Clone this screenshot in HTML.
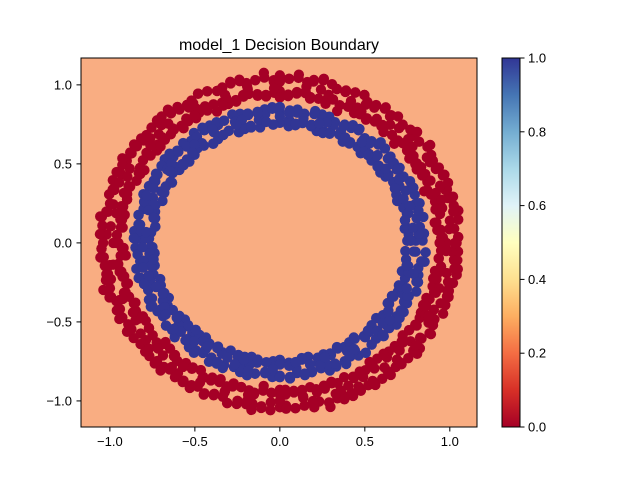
<!DOCTYPE html>
<html><head><meta charset="utf-8"><style>
body{margin:0;background:#fff;}
svg{display:block;font-family:"Liberation Sans","DejaVu Sans",sans-serif;}
</style></head><body>
<svg id="chart" width="640" height="480" viewBox="0 0 640 480" xmlns="http://www.w3.org/2000/svg">
<defs>
<linearGradient id="rdylbu" x1="0" y1="1" x2="0" y2="0">
<stop offset="0" stop-color="#a50026"/><stop offset="0.1" stop-color="#d73027"/><stop offset="0.2" stop-color="#f46d43"/><stop offset="0.3" stop-color="#fdae61"/><stop offset="0.4" stop-color="#fee090"/><stop offset="0.5" stop-color="#ffffbf"/><stop offset="0.6" stop-color="#e0f3f8"/><stop offset="0.7" stop-color="#abd9e9"/><stop offset="0.8" stop-color="#74add1"/><stop offset="0.9" stop-color="#4575b4"/><stop offset="1" stop-color="#313695"/>
</linearGradient>
<clipPath id="clip"><rect x="81" y="58" width="396" height="369"/></clipPath>
</defs>
<text x="279" y="50" text-anchor="middle" font-size="16">model_1 Decision Boundary</text>
<rect x="81" y="58" width="396" height="369" fill="#f9ad82"/>
<g id="points" clip-path="url(#clip)"></g>
<rect x="81" y="58" width="396" height="369" fill="none" stroke="#000" stroke-width="1"/>
<g id="xticks"></g>
<g id="yticks"></g>
<rect x="502" y="58" width="18" height="369" fill="url(#rdylbu)" stroke="#000" stroke-width="1"/>
<g id="cticks"></g>
</svg>
<script>
const xTicks=[-1.0,-0.5,0.0,0.5,1.0];
const xTickLabels=["−1.0","−0.5","0.0","0.5","1.0"];
const yTicks=[-1.0,-0.5,0.0,0.5,1.0];
const yTickLabels=["−1.0","−0.5","0.0","0.5","1.0"];
const cTicks=[0,0.2,0.4,0.6,0.8,1.0];
const cTickLabels=["0.0","0.2","0.4","0.6","0.8","1.0"];
const outerA=[0,2,5,8,11,13,16,19,21,24,27,30,32,35,38,41,43,46,49,51,54,57,60,62,65,68,71,73,76,79,81,84,87,90,92,95,98,101,103,106,109,111,114,117,120,122,125,128,131,133,136,139,141,144,147,150,152,155,158,161,163,166,169,171,174,177,180,182,185,188,191,193,196,199,201,204,207,210,212,215,218,221,223,226,229,231,234,237,240,242,245,248,251,253,256,259,261,264,267,270,272,275,278,281,283,286,289,291,294,297,300,302,305,308,311,313,316,319,321,324,327,330,332,335,338,341,343,346,349,351,354,357];
const outerR1=[0.98,1.05,0.93,1.01,1.07,0.95,0.99,1.03,0.91,1.06,0.96,1.02,0.94,1.08,0.97,1.00,0.92,1.04,0.99,0.95,1.06,0.93,1.01,0.97,1.05,0.90,1.03,0.98,1.07,0.94,1.00,0.96,1.04,0.92,1.02,1.08,0.95,0.99,1.05,0.93,0.97,1.03,0.91,1.06,0.98,1.01,0.94,1.07,0.96,1.02,0.99,0.93,1.05,0.97,1.04,0.92,1.00,1.06,0.95,1.03,0.94,1.01,0.98,1.07,0.93,1.02,0.96,1.05,0.91,0.99,1.04,0.95,1.08,0.97,1.01,0.93,1.06,0.98,1.03,0.94,1.00,1.05,0.92,0.99,1.07,0.96,1.02,0.94,1.04,0.97,1.06,0.93,1.00,0.95,1.03,0.98,1.07,0.91,1.01,0.96,1.05,0.94,0.99,1.02,0.97,1.08,0.93,1.00,1.04,0.95,0.98,1.06,0.92,1.03,0.96,1.01,0.94,1.07,0.99,1.02,0.95,1.04,0.97,1.00,0.93,1.05,0.98,1.02,0.96,1.06,0.94,1.01,0.99,1.03];
const outerR2=[1.03,0.95,1.00,0.92,1.04,0.98,1.06,0.94,1.01,0.97,1.05,0.93,1.02,0.96,0.99,1.07,0.95,1.01,0.93,1.04,0.97,1.02,0.94,1.06,0.99,1.03,0.96,0.92,1.00,1.05,0.97,1.07,0.93,1.02,0.98,0.94,1.04,1.01,0.96,1.06,0.99,0.93,1.05,0.97,1.02,0.95,1.03,0.92,1.00,1.06,0.94,1.01,0.98,1.04,0.96,1.07,0.93,0.99,1.02,0.97,1.05,0.95,1.03,0.94,1.00,1.06,0.98,0.92,1.04,1.01,0.96,1.02,0.94,1.05,0.99,1.03,0.97,0.93,1.06,1.00,0.95,1.02,0.98,1.04,0.94,1.01,0.97,1.05,0.93,1.00,0.96,1.03,0.99,1.06,0.94,1.02,0.97,1.04,0.95,1.00,0.93,1.05,0.98,1.03,0.96,0.94,1.01,1.06,0.99,1.02,0.95,1.04,0.97,1.00,0.93,1.05,0.98,0.96,1.03,0.94,1.06,1.01,0.99,0.95,1.02,0.97,1.04,0.93,1.00,0.96,1.05,0.98];
const outerR3=[0.94,0.96,0.95,0.93,0.96,0.94,0.95,0.97,0.93,0.95,0.94,0.96,0.95,0.93,0.95,0.96,0.94,0.95,0.93,0.96,0.95,0.94,0.96,0.93,0.95,0.94,0.96,0.95,0.94,0.93,0.96,0.95,0.94,0.96,0.95,0.93,0.94,0.96,0.95,0.94,0.93,0.95,0.96,0.94,0.95,0.93,0.96,0.94,0.95,0.94,0.96,0.95,0.93,0.94,0.96,0.95,0.94,0.93,0.96,0.95,0.94,0.96,0.93,0.95,0.94,0.96,0.95,0.93,0.94,0.96,0.95,0.94,0.93,0.96,0.95,0.94,0.95,0.96,0.93,0.94,0.95,0.96,0.94,0.93,0.95,0.96,0.94,0.95,0.93,0.96,0.94,0.95,0.96,0.93,0.94,0.95,0.96,0.94,0.95,0.93,0.96,0.95,0.94,0.93,0.95,0.96,0.94,0.95,0.93,0.96,0.94,0.95,0.96,0.93,0.95,0.94,0.96,0.95,0.93,0.94,0.96,0.95,0.94,0.93,0.95,0.96,0.94,0.95,0.93,0.96,0.94,0.95,0.96,0.94];
const outerR4=[1.04,1.05,1.03,1.06,1.04,1.05,1.03,1.04,1.06,1.05,1.03,1.04,1.05,1.06,1.04,1.03,1.05,1.04,1.06,1.03,1.05,1.04,1.03,1.06,1.05,1.04,1.03,1.05,1.06,1.04,1.03,1.05,1.04,1.06,1.03,1.05,1.04,1.03,1.06,1.05,1.04,1.03,1.05,1.06,1.04,1.03,1.05,1.04,1.06,1.03,1.05,1.04,1.03,1.06,1.05,1.04,1.05,1.03,1.06,1.04,1.05,1.03,1.04,1.06,1.05,1.03,1.04,1.05,1.06,1.04,1.03,1.05,1.04,1.06,1.03,1.05,1.04,1.03,1.06,1.05,1.04,1.03,1.05,1.06,1.04,1.03,1.05,1.04,1.06,1.03,1.05,1.04,1.03,1.06,1.05,1.04,1.03,1.05,1.06,1.04,1.03,1.05,1.04,1.06,1.03,1.05,1.04,1.03,1.06,1.05,1.04,1.03,1.05,1.06,1.04,1.03,1.05,1.04,1.06,1.03,1.05,1.04,1.03,1.06,1.05,1.04,1.03,1.05,1.06,1.04,1.03,1.05,1.04,1.06];
const innerA=[1,4,7,11,14,17,21,24,27,30,34,37,40,44,47,50,53,57,60,63,67,70,73,76,80,83,86,90,93,96,99,103,106,109,113,116,119,122,126,129,132,136,139,142,145,149,152,155,159,162,165,168,172,175,178,182,185,188,191,195,198,201,205,208,211,214,218,221,224,228,231,234,237,241,244,247,251,254,257,260,264,267,270,274,277,280,283,287,290,293,297,300,303,306,310,313,316,320,323,326,329,333,336,339,343,346,349,352,356];
const innerR1=[0.80,0.85,0.76,0.82,0.78,0.86,0.74,0.81,0.79,0.84,0.77,0.83,0.75,0.80,0.87,0.78,0.82,0.76,0.84,0.79,0.81,0.74,0.85,0.77,0.80,0.83,0.78,0.86,0.75,0.82,0.79,0.84,0.76,0.81,0.77,0.85,0.80,0.74,0.83,0.78,0.82,0.76,0.86,0.79,0.81,0.75,0.84,0.77,0.80,0.83,0.78,0.85,0.74,0.82,0.79,0.76,0.84,0.81,0.77,0.86,0.80,0.75,0.83,0.78,0.82,0.76,0.85,0.79,0.81,0.74,0.84,0.77,0.80,0.83,0.78,0.86,0.75,0.82,0.79,0.84,0.76,0.81,0.77,0.85,0.80,0.74,0.83,0.78,0.82,0.76,0.86,0.79,0.81,0.75,0.84,0.77,0.80,0.83,0.78,0.85,0.74,0.82,0.79,0.76,0.84,0.81,0.77,0.86,0.80];
const innerR2=[0.77,0.82,0.79,0.75,0.84,0.80,0.78,0.86,0.76,0.81,0.83,0.78,0.85,0.79,0.76,0.82,0.80,0.86,0.77,0.83,0.75,0.81,0.79,0.84,0.78,0.76,0.82,0.80,0.85,0.77,0.83,0.75,0.81,0.79,0.84,0.76,0.82,0.86,0.78,0.80,0.77,0.83,0.75,0.81,0.79,0.85,0.76,0.82,0.84,0.78,0.80,0.76,0.83,0.79,0.86,0.81,0.77,0.75,0.82,0.80,0.84,0.78,0.76,0.85,0.79,0.81,0.77,0.83,0.75,0.82,0.80,0.86,0.78,0.76,0.84,0.79,0.81,0.77,0.83,0.75,0.82,0.80,0.85,0.78,0.76,0.84,0.79,0.81,0.77,0.83,0.75,0.82,0.80,0.86,0.78,0.76,0.84,0.79,0.81,0.77,0.83,0.75,0.82,0.80,0.85,0.78,0.76,0.84,0.79];
const innerR3=[0.75,0.76,0.74,0.75,0.77,0.76,0.74,0.75,0.76,0.77,0.75,0.74,0.76,0.75,0.77,0.74,0.76,0.75,0.74,0.77,0.76,0.75,0.74,0.76,0.77,0.75,0.74,0.76,0.75,0.77,0.74,0.76,0.75,0.74,0.77,0.76,0.75,0.74,0.76,0.77,0.75,0.74,0.76,0.75,0.77,0.74,0.76,0.75,0.74,0.77,0.76,0.75,0.74,0.76,0.77,0.75,0.74,0.76,0.75,0.77,0.74,0.76,0.75,0.74,0.77,0.76,0.75,0.74,0.76,0.77,0.75,0.74,0.76,0.75,0.77,0.74,0.76,0.75,0.74,0.77,0.76,0.75,0.74,0.76,0.77,0.75,0.74,0.76,0.75,0.77,0.74,0.76,0.75,0.74,0.77,0.76,0.75,0.74,0.76,0.77,0.75,0.74,0.76,0.75,0.77,0.74,0.76,0.75,0.74];
const innerR4=[0.84,0.85,0.83,0.86,0.84,0.83,0.85,0.84,0.86,0.83,0.85,0.84,0.83,0.86,0.85,0.84,0.83,0.85,0.86,0.84,0.83,0.85,0.84,0.86,0.83,0.85,0.84,0.83,0.86,0.85,0.84,0.83,0.85,0.86,0.84,0.83,0.85,0.84,0.86,0.83,0.85,0.84,0.83,0.86,0.85,0.84,0.83,0.85,0.86,0.84,0.83,0.85,0.84,0.86,0.83,0.85,0.84,0.83,0.86,0.85,0.84,0.83,0.85,0.86,0.84,0.83,0.85,0.84,0.86,0.83,0.85,0.84,0.83,0.86,0.85,0.84,0.83,0.85,0.86,0.84,0.83,0.85,0.84,0.86,0.83,0.85,0.84,0.83,0.86,0.85,0.84,0.83,0.85,0.86,0.84,0.83,0.85,0.84,0.86,0.83,0.85,0.84,0.83,0.86,0.85,0.84,0.83,0.85,0.86];

const NS='http://www.w3.org/2000/svg';
const X0=81,X1=477,Y0=427,Y1=58;
const xMin=-1.17,xMax=1.16,yMin=-1.165,yMax=1.17;
function sx(v){return X0+(v-xMin)/(xMax-xMin)*(X1-X0);}
function sy(v){return Y0-(v-yMin)/(yMax-yMin)*(Y0-Y1);}
function cy(v){return 427-v*369;}
function mk(tag,attrs,parent){const e=document.createElementNS(NS,tag);for(const k in attrs)e.setAttribute(k,attrs[k]);parent.appendChild(e);return e;}

const pg=document.getElementById('points');
function ring(A,R,color,name){
  const n=Math.min(A.length,R.length);
  for(let i=0;i<n;i++){
    const t=A[i]*Math.PI/180;
    const c=mk('circle',{cx:sx(R[i]*Math.cos(t)),cy:sy(R[i]*Math.sin(t)),r:5.2,fill:color},pg);
    
    
  }
}
ring(outerA,outerR3,'#a50026','point-class-0');
ring(outerA,outerR4,'#a50026','point-class-0');
ring(outerA,outerR1,'#a50026','point-class-0');
ring(outerA,outerR2,'#a50026','point-class-0');
ring(innerA,innerR3,'#313695','point-class-1');
ring(innerA,innerR4,'#313695','point-class-1');
ring(innerA,innerR1,'#313695','point-class-1');
ring(innerA,innerR2,'#313695','point-class-1');

const xg=document.getElementById('xticks');
xTicks.forEach((v,i)=>{
  mk('line',{x1:sx(v),x2:sx(v),y1:427,y2:431.5,stroke:'#000'},xg);
  const t=mk('text',{x:sx(v),y:446,'text-anchor':'middle','font-size':13},xg);
  t.textContent=xTickLabels[i];
  
  
});
const yg=document.getElementById('yticks');
yTicks.forEach((v,i)=>{
  mk('line',{x1:76.5,x2:81,y1:sy(v),y2:sy(v),stroke:'#000'},yg);
  const t=mk('text',{x:72,y:sy(v)+4.5,'text-anchor':'end','font-size':13},yg);
  t.textContent=yTickLabels[i];
  
  
});
const cg=document.getElementById('cticks');
cTicks.forEach((v,i)=>{
  mk('line',{x1:520,x2:524.5,y1:cy(v),y2:cy(v),stroke:'#000'},cg);
  const t=mk('text',{x:528,y:cy(v)+4.5,'font-size':13},cg);
  t.textContent=cTickLabels[i];
  
  
});
</script>
</body></html>
